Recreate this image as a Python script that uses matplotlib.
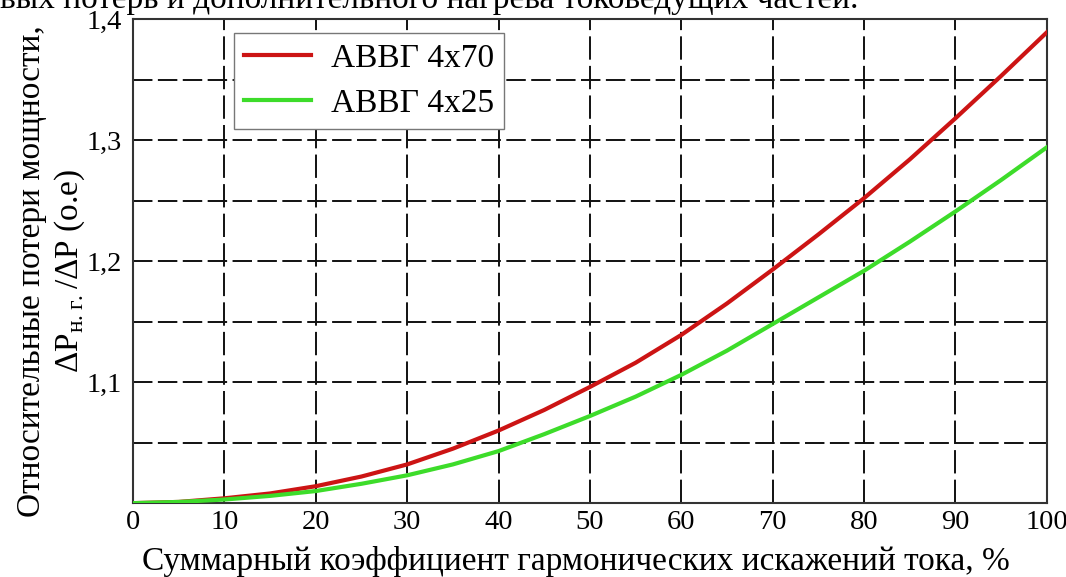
import numpy as np
import matplotlib
matplotlib.use('Agg')
import matplotlib.pyplot as plt
from matplotlib.ticker import FixedLocator

plt.rcParams['font.family'] = ['Liberation Serif', 'DejaVu Serif']
plt.rcParams['mathtext.fontset'] = 'custom'
plt.rcParams['mathtext.rm'] = 'Liberation Serif'

# коэффициент гармонических искажений, %
thd = [0, 5, 10, 15, 20, 25, 30, 35, 40, 45, 50,
       55, 60, 65, 70, 75, 80, 85, 90, 95, 100]
# относительные потери мощности, о.е.
avvg_4x70 = [1.000, 1.001, 1.004, 1.008, 1.014, 1.022, 1.032, 1.045, 1.060, 1.077, 1.096,
             1.116, 1.139, 1.165, 1.193, 1.222, 1.252, 1.284, 1.318, 1.353, 1.389]
avvg_4x25 = [1.000, 1.001, 1.003, 1.006, 1.010, 1.016, 1.023, 1.032, 1.043, 1.057, 1.072,
             1.088, 1.106, 1.126, 1.148, 1.170, 1.192, 1.216, 1.241, 1.267, 1.294]

xticks = [0, 10, 20, 30, 40, 50, 60, 70, 80, 90, 100]
yticks = [1.1, 1.2, 1.3, 1.4]
ytick_labels = ['1,1', '1,2', '1,3', '1,4']
ygrid = [1.05, 1.10, 1.15, 1.20, 1.25, 1.30, 1.35]

fig = plt.figure(figsize=(10.66, 5.77), dpi=100)
ax = fig.add_axes([0.1248, 0.128, 0.8572, 0.839])

# сетка штриховая
for x in xticks[1:-1]:
    ax.axvline(x, color='#111111', lw=1.4, dashes=(12, 3.2), zorder=1)
for y in ygrid:
    ax.axhline(y, color='#111111', lw=1.4, dashes=(10, 2.8), zorder=1)

ax.plot(thd, avvg_4x70, color='#cc1414', lw=3.0, label='АВВГ 4x70', zorder=3)
ax.plot(thd, avvg_4x25, color='#3ddc2a', lw=3.0, label='АВВГ 4x25', zorder=3)

ax.set_xlim(0, 100)
ax.set_ylim(1.0, 1.4)
ax.xaxis.set_major_locator(FixedLocator(xticks))
ax.yaxis.set_major_locator(FixedLocator(yticks))
ax.set_yticklabels(ytick_labels)
ax.tick_params(axis='both', length=0, labelsize=20.5)
ax.tick_params(axis='y', pad=8)
ax.tick_params(axis='x', pad=5)

for s in ax.spines.values():
    s.set_color('#333333')
    s.set_linewidth(1.5)

ax.set_xlabel('Суммарный коэффициент гармонических искажений тока, %', fontsize=24)
ax.xaxis.set_label_coords(0.4847, -0.088)
ax.set_ylabel('Относительные потери мощности,\n'
              r'$\Delta$P$_{\mathrm{н.г.}}$/$\Delta$P (о.е)', fontsize=24,
              linespacing=1.25)
ax.yaxis.set_label_coords(-0.050, 0.48)

leg = ax.legend(loc='upper left', bbox_to_anchor=(0.1105, 0.971), fontsize=24,
                frameon=True, fancybox=False, handlelength=2.0, handletextpad=0.6,
                borderpad=0.3, labelspacing=0.45, borderaxespad=0)
leg.get_frame().set_edgecolor('#777777')
leg.get_frame().set_linewidth(1.0)
leg.get_frame().set_alpha(1)

fig.text(0.0, 1 - 8 / 577, 'вых потерь и дополнительного нагрева токоведущих частей.',
         fontsize=24, ha='left', va='baseline')

fig.savefig('out.png', dpi=100)
